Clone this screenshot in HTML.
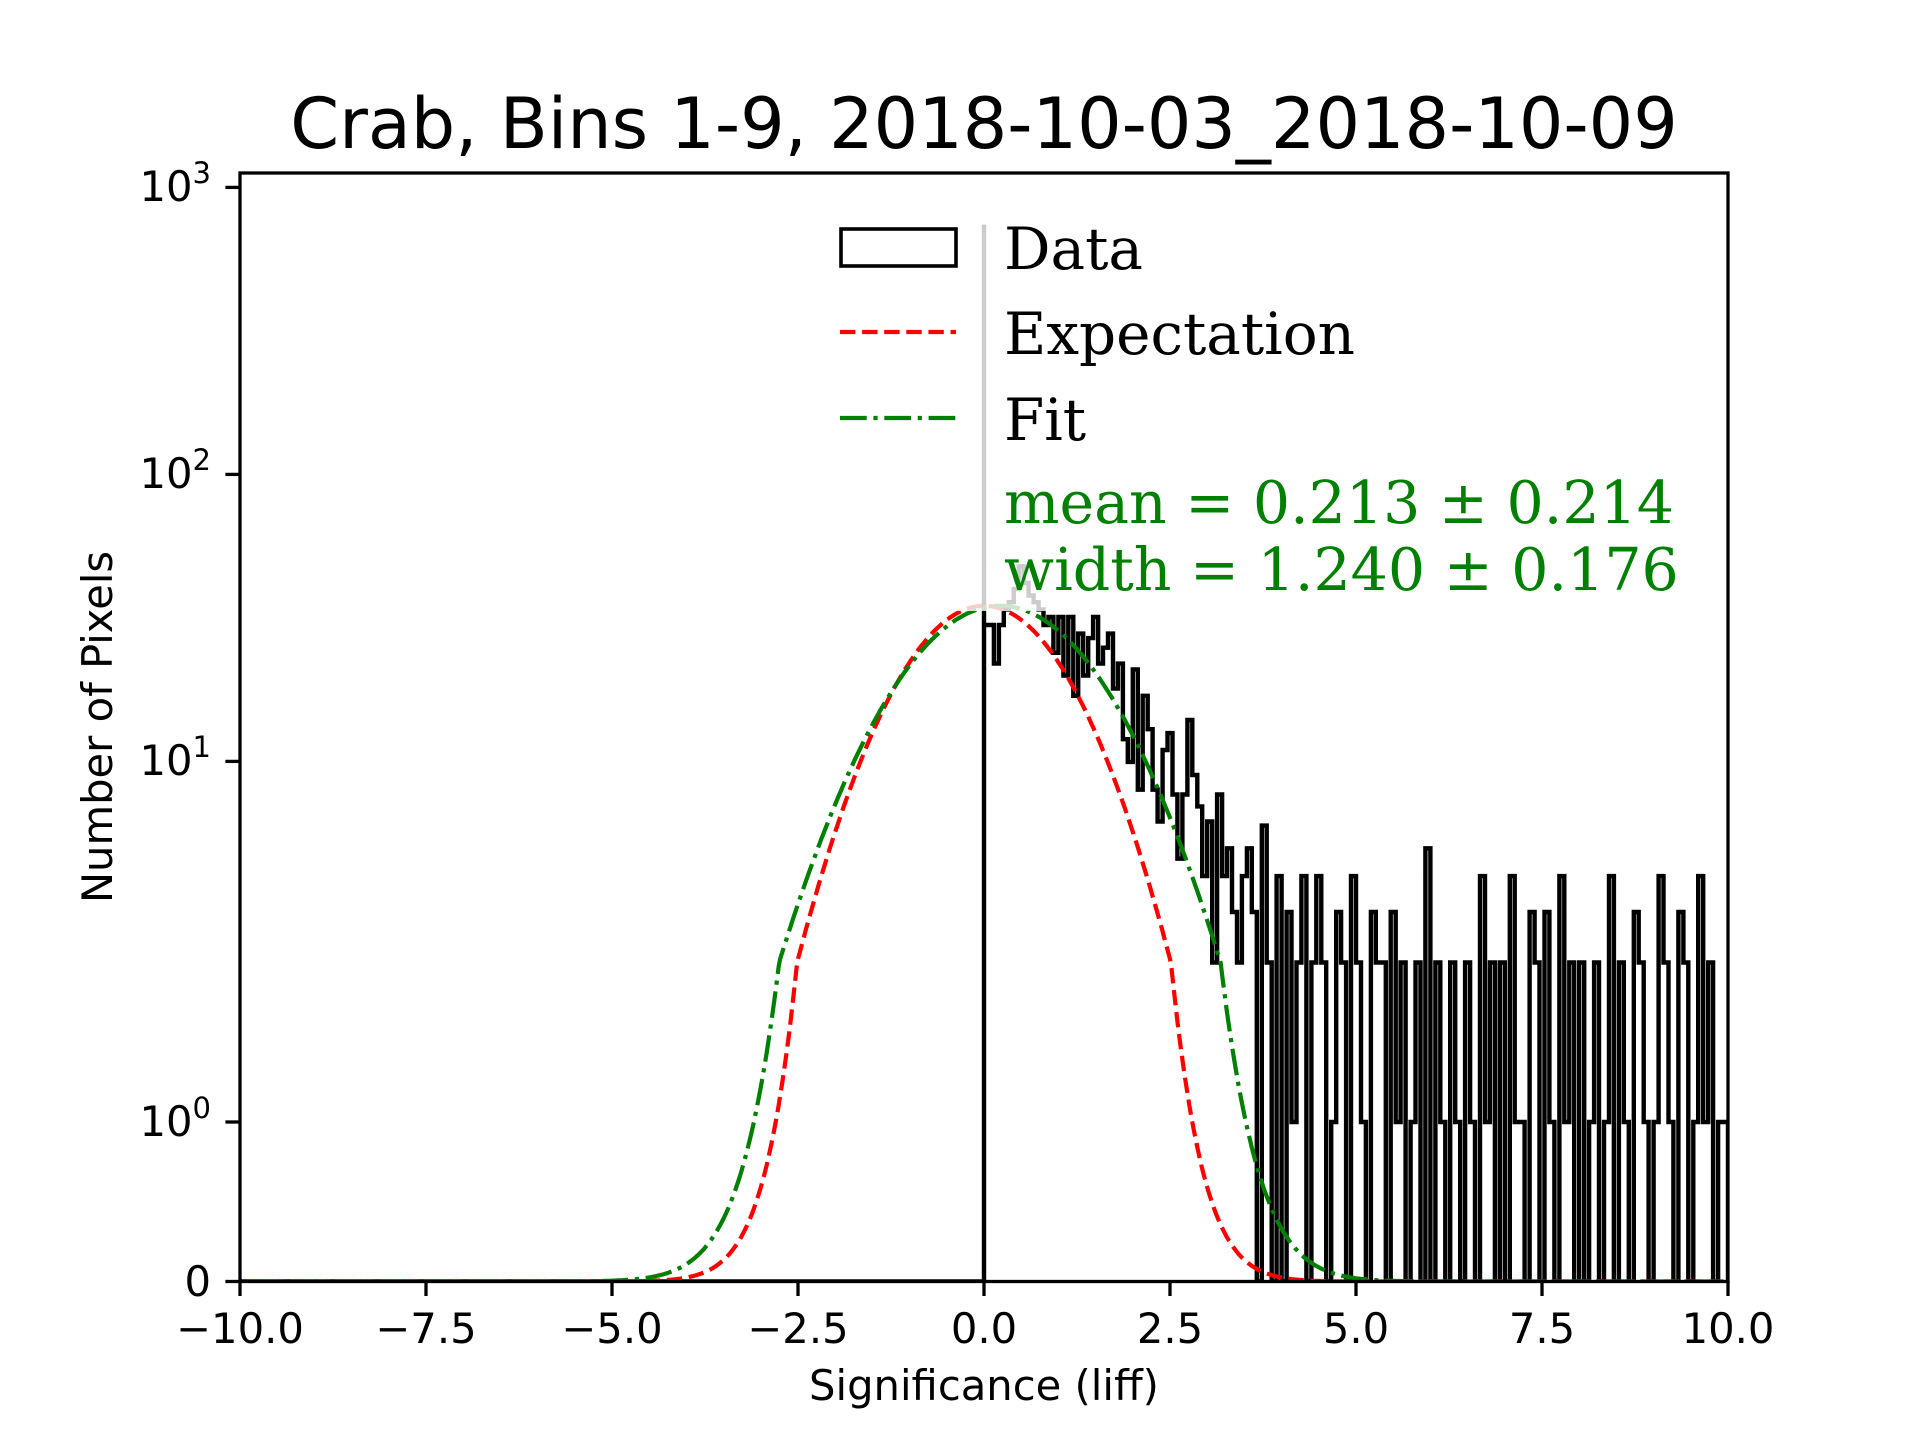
<!DOCTYPE html>
<html><head><meta charset="utf-8"><style>
html,body{margin:0;padding:0;background:#fff;}
svg{display:block;}
text{font-family:"DejaVu Sans","Liberation Sans",sans-serif;}
.serif{font-family:"DejaVu Serif","Liberation Serif",serif;}
</style></head><body>
<svg id="s" width="1920" height="1440" viewBox="0 0 1920 1440" xmlns="http://www.w3.org/2000/svg">
<defs><clipPath id="ax"><rect x="240" y="173" width="1488" height="1109"/></clipPath></defs>
<rect width="1920" height="1440" fill="#fff"/>
<g clip-path="url(#ax)">
<path id="hist" d="" fill="none" stroke="#000" stroke-width="4.4" stroke-linejoin="miter"/>
<path id="red" d="" fill="none" stroke="#ff0000" stroke-width="4.2" stroke-dasharray="15.4,6.7"/>
<path id="green" d="" fill="none" stroke="#008000" stroke-width="4.2" stroke-dasharray="26.7,6.7,4.2,6.7"/>
<rect x="946" y="205" width="760" height="406" fill="#fff" fill-opacity="0.8"/>
</g>
<!-- legend -->
<rect x="841" y="229" width="115" height="37" fill="none" stroke="#000" stroke-width="3.6"/>
<line x1="840" y1="332" x2="956" y2="332" stroke="#ff0000" stroke-width="4.2" stroke-dasharray="15.4,6.7"/>
<line x1="840" y1="418" x2="956" y2="418" stroke="#008000" stroke-width="4.2" stroke-dasharray="26.7,6.7,4.2,6.7"/>
<text class="serif" x="1004" y="269" font-size="58">Data</text>
<text class="serif" x="1004" y="354" font-size="58">Expectation</text>
<text class="serif" x="1004" y="440" font-size="58">Fit</text>
<text class="serif" x="1004" y="523" font-size="58.5" fill="#008000">mean = 0.213 ± 0.214</text>
<text class="serif" x="1004" y="590" font-size="58.5" fill="#008000">width = 1.240 ± 0.176</text>
<!-- spines -->
<rect x="240" y="173" width="1488" height="1108.5" fill="none" stroke="#000" stroke-width="3.3"/>
<g id="ticks" stroke="#000" stroke-width="3.3"></g>
<g font-size="41.7" fill="#000">
<text x="240" y="1343" text-anchor="middle">−10.0</text>
<text x="426" y="1343" text-anchor="middle">−7.5</text>
<text x="612" y="1343" text-anchor="middle">−5.0</text>
<text x="798" y="1343" text-anchor="middle">−2.5</text>
<text x="984" y="1343" text-anchor="middle">0.0</text>
<text x="1170" y="1343" text-anchor="middle">2.5</text>
<text x="1356" y="1343" text-anchor="middle">5.0</text>
<text x="1542" y="1343" text-anchor="middle">7.5</text>
<text x="1728" y="1343" text-anchor="middle">10.0</text>
<text x="211" y="1296" text-anchor="end">0</text>
<text x="211" y="1136" text-anchor="end">10<tspan font-size="29" dy="-18">0</tspan></text>
<text x="211" y="775" text-anchor="end">10<tspan font-size="29" dy="-18">1</tspan></text>
<text x="211" y="488" text-anchor="end">10<tspan font-size="29" dy="-18">2</tspan></text>
<text x="211" y="201" text-anchor="end">10<tspan font-size="29" dy="-18">3</tspan></text>
</g>
<text x="984" y="1400" text-anchor="middle" font-size="41.7">Significance (liff)</text>
<text x="0" y="0" text-anchor="middle" font-size="41.7" transform="translate(112,727) rotate(-90)">Number of Pixels</text>
<text x="984" y="148" text-anchor="middle" font-size="70">Crab, Bins 1-9, 2018-10-03_2018-10-09</text>
</svg>
<script>
(function(){
var X=function(v){return 984+74.4*v;};
var Y=function(v){var h=v<=2?159.5*v:319+287*Math.log10(v/2);return 1281.5-h;};
var vals=[30,30,22,30,34,36,40,48,42,38,36,34,30,
32,24,32,20,32,17,28,20,27,32,22,25,28,18,22,12,10,21,8,17,13,8,6.2,11,12.6,7.7,4.6,7.7,14,9,7,4,6.2,2,7.7,
4,5,
3,2,4,5,3,0,6,2,0,4,
0,3,1,2,4,0,2,4,2,0,1,3,2,0,4,2,1,0,3,2,
2,0,3,1,2,0,1,2,0,5,0,2,1,0,2,1,0,2,1,0,
4,1,2,0,2,0,4,1,1,0,3,2,0,3,1,0,4,1,2,0,
2,0,1,2,0,1,4,0,2,1,0,3,2,1,0,1,4,2,1,0,
3,2,0,1,4,1,2,0,1,1];
var w=1/15, base=Y(0);
var d="M230,"+base+" H984 V"+Y(745).toFixed(1)+" V"+Y(vals[0]).toFixed(1);
for(var k=0;k<vals.length;k++){
  var x1=X((k+1)*w),y=Y(vals[k]).toFixed(1);
  d+=" V"+y+" H"+x1.toFixed(1);
}
d+=" V"+base+" H1740";
document.getElementById('hist').setAttribute('d',d);
function curve(A,m,s){var p="";for(var x=-10.5;x<=10.5;x+=0.02){var v=A*Math.exp(-0.5*Math.pow((x-m)/s,2));p+=(p?" L":"M")+X(x).toFixed(1)+","+Y(v).toFixed(1);}return p;}
document.getElementById('red').setAttribute('d',curve(35,0,1.05));
document.getElementById('green').setAttribute('d',curve(35,0.213,1.24));
var t="";
for(var i=0;i<9;i++){var xx=240+186*i;t+='<line x1="'+xx+'" y1="1281.5" x2="'+xx+'" y2="1296"/>';}
[1281.5,1122,761.4,474.4,187.4].forEach(function(yy){t+='<line x1="225.4" y1="'+yy+'" x2="240" y2="'+yy+'"/>';});
document.getElementById('ticks').innerHTML=t;
})();
</script>
</body></html>
